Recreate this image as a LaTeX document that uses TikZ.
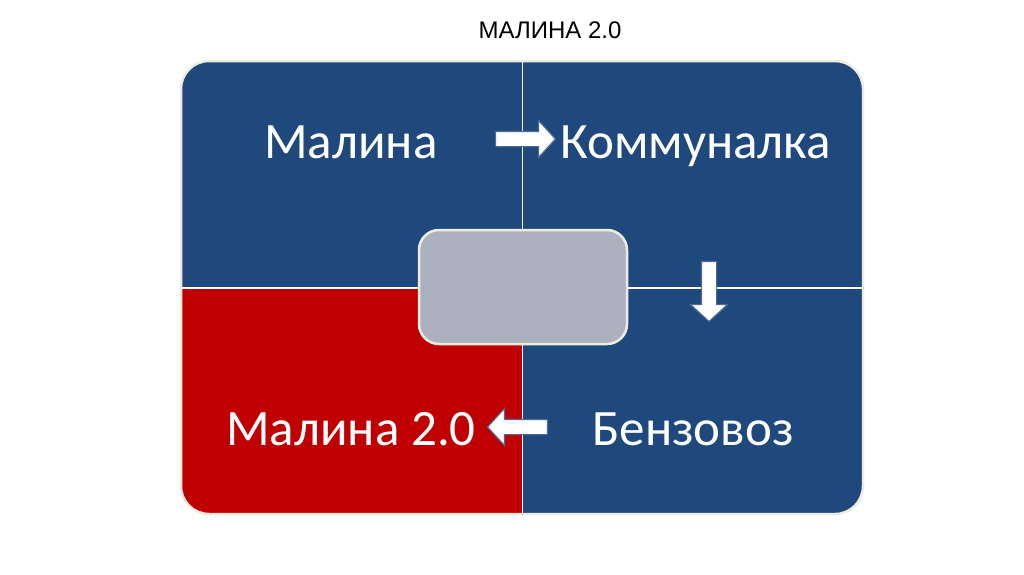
\documentclass[tikz,border=0pt]{standalone}
\usepackage{fontspec}
\setmainfont{Liberation Sans}
\newfontfamily\calib{Carlito}
\usepackage{tikz}
\usetikzlibrary{arrows.meta,positioning,shapes.arrows}
\definecolor{quadblue}{HTML}{1F497D}
\definecolor{quadred}{HTML}{C00000}
\definecolor{hubgray}{HTML}{ABB1BE}
\definecolor{rimcream}{HTML}{EEECE1}
\definecolor{arrowedge}{HTML}{4E6A94}
\begin{document}
\begin{tikzpicture}[x=1pt, y=-1pt,
  lbl/.style={font=\calib\fontsize{51}{51}\selectfont, text=white, anchor=base, inner sep=0pt},
  blk/.style={single arrow, draw=arrowedge, line width=1.2pt, fill=white, inner xsep=0pt, inner ysep=7pt,
    minimum height=60pt, single arrow head extend=11pt, single arrow tip angle=95},
  rule/.style={draw=white, line width=1.8pt}]
\useasboundingbox (0,0) rectangle (1024,574);
\node[font=\fontsize{24}{24}\selectfont, inner sep=0pt] (title) at (550,30) {МАЛИНА 2.0};
\begin{scope}
  \clip[rounded corners=28pt] (181,61) rectangle (863,514);
  \fill[quadblue] (181,61) rectangle (863,514);
  \fill[quadred] (181,288) rectangle (522.5,514);
\end{scope}
\coordinate (vtop) at (522.5,61);
\coordinate (vbot) at (522.5,514);
\coordinate (hleft) at (181,288);
\coordinate (hright) at (863,288);
\draw[rule] (vtop) -- (vbot);
\draw[rule] (hleft) -- (hright);
\draw[rimcream, line width=2.5pt, rounded corners=28pt] (181,61) rectangle (863,514);
\node[draw=rimcream, line width=2.5pt, fill=hubgray, rounded corners=20pt,
  minimum width=208pt, minimum height=114pt] (hub) at (523,287) {};
\node[lbl] (malina) at (351,158) {Малина};
\node[lbl] (komm) at (696,158) {Коммуналка};
\node[lbl] (benz) at (693,445) {Бензовоз};
\node[lbl] (malina2) at (351,445) {Малина 2.0};
\node[blk] (a1) at (522,139) {};
\node[blk, rotate=-90] (a2) at (709,288) {};
\node[blk, rotate=180] (a3) at (521,427) {};
\end{tikzpicture}
\end{document}
